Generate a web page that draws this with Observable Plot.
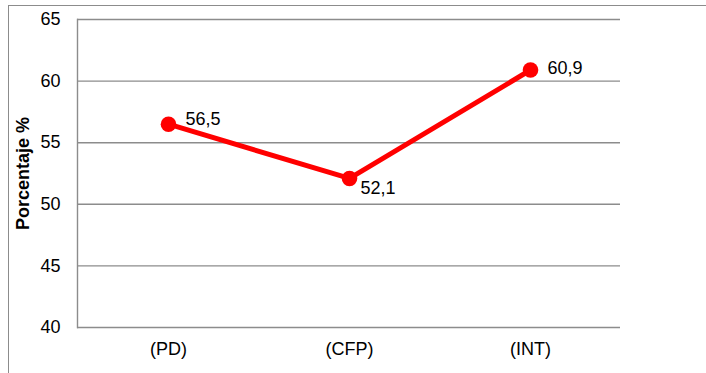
<!DOCTYPE html>
<html>
<head>
<meta charset="utf-8">
<script src="https://cdn.jsdelivr.net/npm/d3@7"></script>
<script src="https://cdn.jsdelivr.net/npm/@observablehq/plot@0.6"></script>
<style>
  html, body { margin: 0; padding: 0; background: #fff; }
  #wrap { position: relative; width: 706px; height: 373px; overflow: hidden; }
  #border { position: absolute; left: 8px; top: 5px; width: 900px; height: 500px;
            border-left: 1px solid #8c8c8c; border-top: 1px solid #8c8c8c; box-sizing: border-box; }
  #chart { position: absolute; left: 0; top: 0; }
</style>
</head>
<body>
<div id="wrap"><div id="border"></div><div id="chart"></div></div>
<script>
// Categories and percentages
const categories = ["(PD)", "(CFP)", "(INT)"];
const values = [56.5, 52.1, 60.9];
const yTicks = [40, 45, 50, 55, 60, 65];
const yLabel = "Porcentaje %";

const data = categories.map((c, i) => ({cat: c, value: values[i], label: values[i].toFixed(1).replace(".", ",")}));

const font = "'Liberation Sans', Arial, sans-serif";
const grid = "#8c8c8c";

// per-point label nudges (placed to the right of each marker)
const labelNudge = {"(PD)": [17, -4.5], "(CFP)": [11, 10], "(INT)": [17, -2]};

const plot = Plot.plot({
  width: 706,
  height: 373,
  marginLeft: 77,
  marginRight: 86,
  marginTop: 19,
  marginBottom: 46,
  style: {fontFamily: font, fontSize: "18px", color: "#000", background: "transparent"},
  x: {type: "point", domain: categories, padding: 0.5, label: null, tickSize: 0, tickPadding: 15},
  y: {domain: [40, 65], ticks: yTicks, label: null, tickSize: 0, tickPadding: 17},
  marks: [
    Plot.ruleY(yTicks, {stroke: grid, strokeWidth: 1.4}),
    Plot.frame({anchor: "left", stroke: grid, strokeWidth: 1.4}),
    Plot.axisX({tickSize: 0, tickPadding: 15, fontSize: 18, label: null}),
    Plot.axisY({ticks: yTicks, tickSize: 0, tickPadding: 17, fontSize: 18, label: null}),
    Plot.line(data, {x: "cat", y: "value", stroke: "#ff0000", strokeWidth: 5}),
    Plot.dot(data, {x: "cat", y: "value", r: 7.8, fill: "#ff0000"}),
    ...categories.map(c => Plot.text(data, {
      filter: d => d.cat === c,
      x: "cat", y: "value", text: "label",
      textAnchor: "start", lineAnchor: "middle",
      dx: labelNudge[c][0], dy: labelNudge[c][1],
      fontSize: 18, fill: "#000"
    })),
    Plot.text([yLabel], {
      text: d => d, frameAnchor: "left", rotate: -90,
      textAnchor: "middle", lineAnchor: "middle",
      dx: -54, fontSize: 18, fontWeight: "bold", fill: "#000"
    })
  ]
});

document.getElementById("chart").appendChild(plot);
</script>
</body>
</html>
